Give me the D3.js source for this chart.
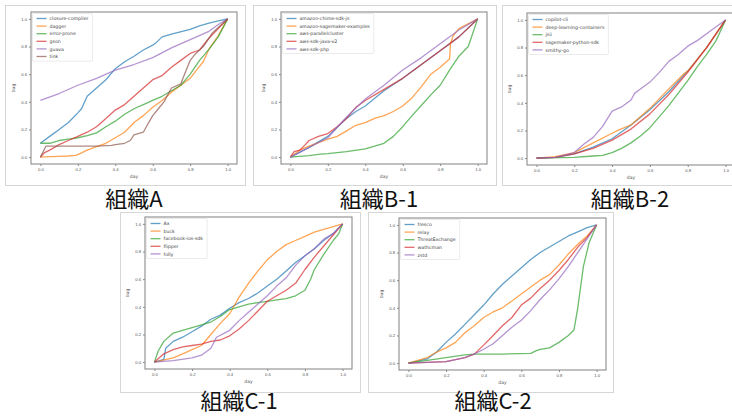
<!DOCTYPE html>
<html>
<head>
<meta charset="utf-8">
<script src="https://cdn.jsdelivr.net/npm/d3@7"></script>
<style>
  body { margin: 0; background: #fff; }
  svg { display: block; }
</style>
</head>
<body>
<div id="chart"></div>
<script>
// shared axis ticks
const tickValues = [0, 0.2, 0.4, 0.6, 0.8, 1.0];
const palette = ['#1f77b4', '#ff7f0e', '#2ca02c', '#d62728', '#9467bd', '#8c564b'];

// 組織A
const namesA = ['closure-compiler', 'dagger', 'error-prone', 'gson', 'guava', 'tink'];
const seriesA = [
  [[0,0.1],[0.05,0.15],[0.1,0.2],[0.15,0.25],[0.2,0.32],[0.22,0.35],[0.25,0.44],[0.3,0.5],[0.35,0.56],[0.4,0.64],[0.45,0.69],[0.5,0.73],[0.55,0.775],[0.6,0.81],[0.62,0.83],[0.65,0.87],[0.7,0.89],[0.8,0.925],[0.85,0.95],[0.9,0.97],[0.95,0.985],[1,1]],
  [[0,0],[0.05,0.003],[0.1,0.005],[0.15,0.008],[0.19,0.012],[0.22,0.03],[0.25,0.05],[0.3,0.075],[0.35,0.1],[0.4,0.14],[0.45,0.18],[0.5,0.25],[0.55,0.3],[0.6,0.36],[0.65,0.41],[0.7,0.47],[0.75,0.52],[0.8,0.57],[0.84,0.64],[0.87,0.69],[0.9,0.78],[0.95,0.88],[1,1]],
  [[0,0.1],[0.05,0.1],[0.1,0.12],[0.15,0.13],[0.2,0.14],[0.25,0.155],[0.3,0.175],[0.35,0.22],[0.4,0.26],[0.45,0.31],[0.5,0.35],[0.55,0.38],[0.6,0.41],[0.65,0.44],[0.7,0.48],[0.75,0.52],[0.8,0.6],[0.85,0.7],[0.9,0.78],[0.95,0.87],[1,1]],
  [[0,0],[0.02,0.03],[0.05,0.05],[0.1,0.09],[0.15,0.12],[0.2,0.15],[0.25,0.18],[0.3,0.22],[0.35,0.28],[0.4,0.34],[0.45,0.38],[0.5,0.44],[0.55,0.5],[0.6,0.56],[0.65,0.59],[0.7,0.65],[0.75,0.7],[0.8,0.75],[0.85,0.775],[0.9,0.86],[0.95,0.93],[1,1]],
  [[0,0.41],[0.1,0.46],[0.2,0.52],[0.3,0.57],[0.4,0.63],[0.5,0.67],[0.6,0.72],[0.7,0.79],[0.8,0.85],[0.9,0.91],[0.95,0.96],[1,1]],
  [[0,0],[0.03,0.08],[0.1,0.08],[0.2,0.08],[0.3,0.08],[0.38,0.085],[0.4,0.09],[0.45,0.1],[0.48,0.12],[0.5,0.16],[0.55,0.18],[0.57,0.23],[0.6,0.3],[0.63,0.35],[0.66,0.4],[0.7,0.5],[0.75,0.53],[0.77,0.6],[0.8,0.7],[0.83,0.75],[0.87,0.8],[0.92,0.9],[0.96,0.95],[1,1]]
];

// 組織B-1
const namesB1 = ['amazon-chime-sdk-js', 'amazon-sagemaker-examples', 'aws-parallelcluster', 'aws-sdk-java-v2', 'aws-sdk-php'];
const seriesB1 = [
  [[0,0],[0.1,0.07],[0.2,0.15],[0.3,0.28],[0.35,0.33],[0.4,0.37],[0.5,0.48],[0.6,0.57],[0.7,0.67],[0.8,0.77],[0.9,0.87],[1,1]],
  [[0,0],[0.05,0.05],[0.1,0.08],[0.2,0.13],[0.25,0.15],[0.3,0.19],[0.35,0.23],[0.4,0.25],[0.45,0.28],[0.5,0.3],[0.55,0.33],[0.6,0.37],[0.65,0.43],[0.7,0.51],[0.75,0.6],[0.8,0.65],[0.85,0.71],[0.855,0.82],[0.87,0.88],[0.9,0.93],[1,1]],
  [[0,0],[0.1,0.01],[0.15,0.02],[0.2,0.025],[0.3,0.04],[0.4,0.06],[0.45,0.08],[0.5,0.1],[0.55,0.15],[0.6,0.22],[0.65,0.3],[0.7,0.375],[0.75,0.45],[0.8,0.52],[0.85,0.63],[0.9,0.73],[0.95,0.8],[0.97,0.88],[1,1]],
  [[0,0],[0.02,0.04],[0.05,0.05],[0.08,0.09],[0.1,0.12],[0.15,0.15],[0.2,0.17],[0.25,0.22],[0.3,0.28],[0.35,0.36],[0.4,0.41],[0.5,0.49],[0.6,0.57],[0.7,0.67],[0.8,0.77],[0.9,0.87],[1,1]],
  [[0,0],[0.1,0.07],[0.2,0.14],[0.3,0.29],[0.4,0.42],[0.5,0.52],[0.6,0.63],[0.7,0.72],[0.8,0.82],[0.9,0.92],[1,1]]
];

// 組織B-2
const namesB2 = ['copilot-cli', 'deep-learning-containers', 'jsii', 'sagemaker-python-sdk', 'smithy-go'];
const seriesB2 = [
  [[0,0],[0.1,0.005],[0.2,0.03],[0.3,0.08],[0.4,0.14],[0.5,0.24],[0.6,0.35],[0.7,0.48],[0.8,0.63],[0.9,0.8],[1,1]],
  [[0,0],[0.1,0.01],[0.2,0.04],[0.3,0.11],[0.4,0.18],[0.43,0.2],[0.5,0.24],[0.6,0.36],[0.7,0.5],[0.78,0.61],[0.8,0.63],[0.9,0.8],[1,1]],
  [[0,0],[0.2,0.005],[0.3,0.015],[0.35,0.02],[0.4,0.04],[0.45,0.07],[0.5,0.11],[0.55,0.16],[0.6,0.22],[0.65,0.3],[0.7,0.38],[0.75,0.47],[0.8,0.56],[0.85,0.66],[0.9,0.75],[0.95,0.85],[1,1]],
  [[0,0],[0.1,0.005],[0.2,0.03],[0.3,0.07],[0.4,0.13],[0.5,0.21],[0.6,0.32],[0.7,0.46],[0.8,0.62],[0.9,0.8],[1,1]],
  [[0,0],[0.1,0.005],[0.2,0.04],[0.25,0.1],[0.3,0.15],[0.35,0.23],[0.4,0.34],[0.45,0.37],[0.5,0.42],[0.52,0.47],[0.55,0.5],[0.6,0.55],[0.65,0.62],[0.7,0.7],[0.75,0.75],[0.8,0.81],[0.85,0.85],[0.9,0.9],[0.95,0.95],[1,1]]
];

// 組織C-1
const namesC1 = ['Ax', 'buck', 'facebook-ios-sdk', 'flipper', 'folly'];
const seriesC1 = [
  [[0,0],[0.05,0.02],[0.06,0.1],[0.1,0.15],[0.15,0.18],[0.2,0.22],[0.25,0.26],[0.3,0.31],[0.35,0.34],[0.4,0.39],[0.45,0.43],[0.5,0.46],[0.55,0.5],[0.6,0.55],[0.65,0.6],[0.7,0.66],[0.75,0.72],[0.8,0.77],[0.85,0.82],[0.9,0.88],[0.95,0.93],[1,1]],
  [[0,0],[0.1,0.03],[0.15,0.06],[0.2,0.09],[0.25,0.12],[0.3,0.2],[0.35,0.28],[0.4,0.35],[0.45,0.47],[0.5,0.57],[0.55,0.66],[0.6,0.74],[0.65,0.8],[0.7,0.85],[0.75,0.88],[0.8,0.91],[0.85,0.94],[0.9,0.96],[0.95,0.98],[1,1]],
  [[0,0],[0.02,0.08],[0.05,0.15],[0.1,0.21],[0.15,0.23],[0.2,0.25],[0.25,0.27],[0.3,0.29],[0.35,0.33],[0.4,0.38],[0.45,0.4],[0.5,0.42],[0.55,0.43],[0.6,0.44],[0.65,0.45],[0.7,0.46],[0.75,0.48],[0.8,0.52],[0.83,0.6],[0.85,0.67],[0.9,0.78],[0.95,0.88],[0.98,0.93],[1,1]],
  [[0,0],[0.05,0.06],[0.1,0.09],[0.15,0.11],[0.2,0.12],[0.25,0.13],[0.3,0.15],[0.35,0.16],[0.4,0.19],[0.45,0.24],[0.5,0.3],[0.55,0.37],[0.6,0.44],[0.65,0.48],[0.7,0.52],[0.75,0.57],[0.8,0.67],[0.85,0.76],[0.9,0.84],[0.95,0.92],[1,1]],
  [[0,0],[0.1,0.01],[0.2,0.03],[0.25,0.05],[0.3,0.1],[0.33,0.18],[0.4,0.23],[0.45,0.3],[0.5,0.36],[0.55,0.42],[0.6,0.48],[0.65,0.55],[0.7,0.61],[0.75,0.7],[0.8,0.77],[0.85,0.82],[0.9,0.89],[0.95,0.93],[1,1]]
];

// 組織C-2
const namesC2 = ['fresco', 'relay', 'ThreatExchange', 'wathcman', 'zstd'];
const seriesC2 = [
  [[0,0],[0.1,0.03],[0.15,0.08],[0.2,0.15],[0.25,0.21],[0.3,0.28],[0.35,0.35],[0.4,0.42],[0.45,0.5],[0.5,0.57],[0.55,0.63],[0.6,0.69],[0.65,0.75],[0.7,0.8],[0.75,0.84],[0.8,0.88],[0.85,0.92],[0.9,0.95],[0.95,0.98],[1,1]],
  [[0,0],[0.1,0.04],[0.15,0.08],[0.2,0.11],[0.25,0.15],[0.3,0.22],[0.35,0.27],[0.4,0.33],[0.45,0.37],[0.5,0.4],[0.55,0.45],[0.6,0.5],[0.65,0.55],[0.7,0.6],[0.75,0.64],[0.8,0.71],[0.85,0.79],[0.9,0.86],[0.95,0.92],[1,1]],
  [[0,0],[0.1,0.02],[0.2,0.04],[0.3,0.06],[0.35,0.065],[0.5,0.065],[0.65,0.07],[0.68,0.09],[0.7,0.1],[0.75,0.11],[0.8,0.15],[0.85,0.2],[0.88,0.24],[0.9,0.4],[0.93,0.7],[0.96,0.87],[1,1]],
  [[0,0],[0.1,0.005],[0.2,0.01],[0.3,0.04],[0.35,0.065],[0.4,0.13],[0.45,0.2],[0.5,0.27],[0.55,0.33],[0.6,0.42],[0.65,0.47],[0.7,0.54],[0.75,0.6],[0.8,0.67],[0.85,0.75],[0.9,0.84],[0.95,0.91],[1,1]],
  [[0,0],[0.1,0.005],[0.2,0.01],[0.3,0.04],[0.35,0.065],[0.4,0.1],[0.45,0.14],[0.5,0.2],[0.55,0.26],[0.6,0.31],[0.65,0.38],[0.7,0.46],[0.75,0.53],[0.8,0.61],[0.85,0.7],[0.9,0.8],[0.95,0.9],[1,1]]
];

// layout of each picture: frame box, axes box, caption position
const panels = [
  { title: '組織A',   names: namesA,  series: seriesA,  frame: [5, 5, 240, 180],   axes: [31, 12, 206, 152],  cap: [134, 207] },
  { title: '組織B-1', names: namesB1, series: seriesB1, frame: [253, 5, 243, 180], axes: [281, 12, 206, 152], cap: [379, 207] },
  { title: '組織B-2', names: namesB2, series: seriesB2, frame: [502, 5, 240, 180], axes: [527, 13, 208, 152], cap: [630, 207] },
  { title: '組織C-1', names: namesC1, series: seriesC1, frame: [120, 212, 240, 180], axes: [145, 217, 207, 152], cap: [239, 409] },
  { title: '組織C-2', names: namesC2, series: seriesC2, frame: [368, 212, 245, 180], axes: [399, 218, 207, 152], cap: [493, 409] }
];

const W = 732, H = 416;
const svg = d3.select('#chart').append('svg')
  .attr('width', W).attr('height', H)
  .style('font-family', 'DejaVu Sans, sans-serif');

svg.append('rect').attr('width', W).attr('height', H).attr('fill', '#fff');

panels.forEach(p => {
  const [fx, fy, fw, fh] = p.frame;
  const [ax, ay, aw, ah] = p.axes;
  const g = svg.append('g');

  g.append('rect')
    .attr('x', fx + 0.5).attr('y', fy + 0.5)
    .attr('width', fw).attr('height', fh)
    .attr('fill', '#fff').attr('stroke', '#d6d6d6');

  const x = d3.scaleLinear().domain([-0.05, 1.05]).range([ax, ax + aw]);
  const y = d3.scaleLinear().domain([-0.05, 1.05]).range([ay + ah, ay]);

  const xAxis = g.append('g')
    .attr('transform', `translate(0,${ay + ah})`)
    .call(d3.axisBottom(x).tickValues(tickValues).tickFormat(d3.format('.1f')).tickSize(2).tickPadding(2));
  const yAxis = g.append('g')
    .attr('transform', `translate(${ax},0)`)
    .call(d3.axisLeft(y).tickValues(tickValues).tickFormat(d3.format('.1f')).tickSize(2).tickPadding(2));
  [xAxis, yAxis].forEach(a => {
    a.select('.domain').remove();
    a.selectAll('line').attr('stroke', '#888');
    a.selectAll('text').attr('fill', '#555').style('font-size', '4.2px');
  });

  const line = d3.line().x(d => x(d[0])).y(d => y(d[1]));
  p.series.forEach((s, i) => {
    g.append('path')
      .datum(s)
      .attr('d', line)
      .attr('fill', 'none')
      .attr('stroke', palette[i])
      .attr('stroke-width', 1.3)
      .attr('stroke-opacity', 0.7)
      .attr('stroke-linejoin', 'round');
  });

  // spines
  g.append('rect')
    .attr('x', ax).attr('y', ay).attr('width', aw).attr('height', ah)
    .attr('fill', 'none').attr('stroke', '#8c8c8c').attr('stroke-width', 1.1);

  g.append('text')
    .attr('x', ax + aw / 2).attr('y', ay + ah + 14)
    .attr('text-anchor', 'middle').attr('fill', '#555')
    .style('font-size', '4.5px').text('day');
  g.append('text')
    .attr('transform', `translate(${ax - 16},${ay + ah / 2}) rotate(-90)`)
    .attr('text-anchor', 'middle').attr('fill', '#555')
    .style('font-size', '4.5px').text('bug');

  // legend
  const lg = g.append('g').attr('transform', `translate(${ax + 1.5},${ay + 1.5})`);
  const box = lg.append('rect')
    .attr('fill', '#fff').attr('fill-opacity', 0.85)
    .attr('stroke', '#ddd').attr('stroke-width', 0.6).attr('rx', 1);
  let maxW = 0;
  p.names.forEach((n, i) => {
    const yy = 5 + i * 7.6;
    lg.append('line')
      .attr('x1', 4).attr('x2', 14).attr('y1', yy).attr('y2', yy)
      .attr('stroke', palette[i]).attr('stroke-width', 1.3).attr('stroke-opacity', 0.7);
    const t = lg.append('text')
      .attr('x', 17).attr('y', yy + 1.6)
      .attr('fill', '#444').style('font-size', '4.7px').text(n);
    maxW = Math.max(maxW, t.node().getComputedTextLength());
  });
  box.attr('width', 17 + maxW + 4).attr('height', p.names.length * 7.6 + 2);

  svg.append('text')
    .attr('x', p.cap[0]).attr('y', p.cap[1])
    .attr('text-anchor', 'middle')
    .attr('fill', '#111')
    .style('font-family', '"Noto Sans CJK JP", sans-serif')
    .style('font-size', '22px')
    .text(p.title);
});
</script>
</body>
</html>
